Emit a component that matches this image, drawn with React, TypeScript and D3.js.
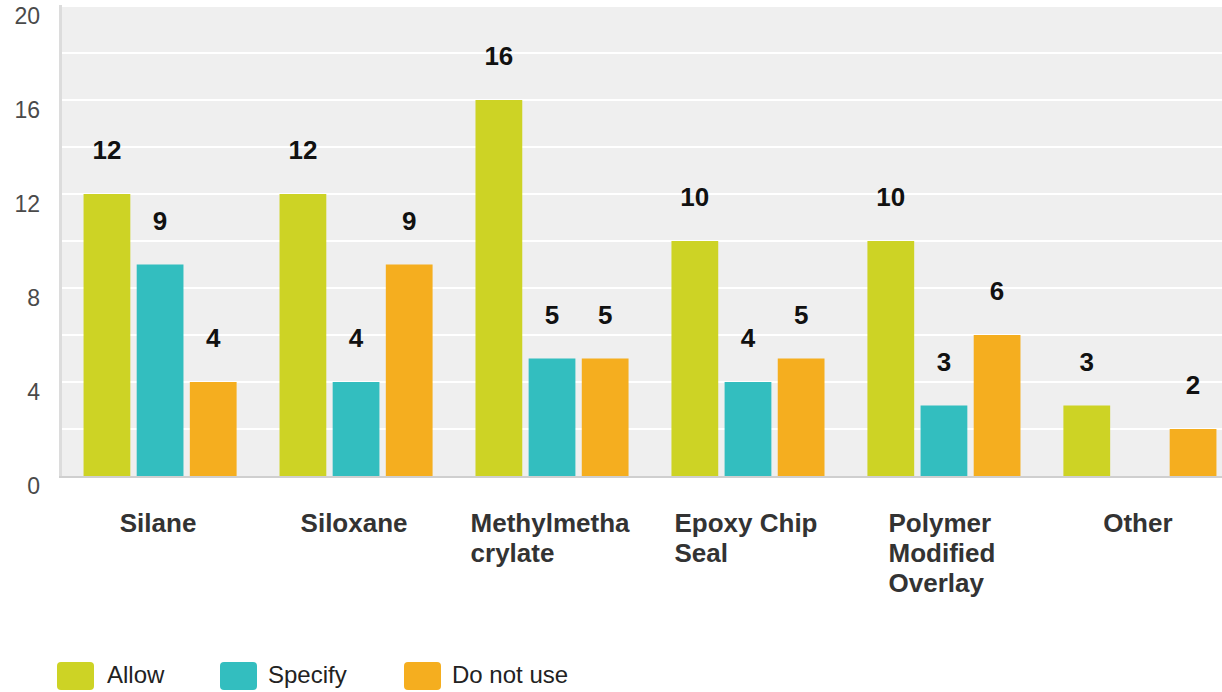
import React, { useEffect, useRef } from "react";
import * as d3 from "d3";

const categories = ["Silane", "Siloxane", "Methylmethacrylate", "Epoxy Chip Seal", "Polymer Modified Overlay", "Other"];
const seriesNames = ["Allow", "Specify", "Do not use"];
const allowValues = [12, 12, 16, 10, 10, 3];
const specifyValues = [9, 4, 5, 4, 3, 0];
const doNotUseValues = [4, 9, 5, 5, 6, 2];
const gridTicks = [0, 2, 4, 6, 8, 10, 12, 14, 16, 18, 20];
const labelTicks = [0, 4, 8, 12, 16, 20];
const colors = ["#CDD325", "#33BEBF", "#F5AE1F"];

const W = 1222;
const H = 692;
const FONT = "'Liberation Sans', Arial, sans-serif";

export default function App() {
  const ref = useRef<SVGSVGElement>(null);

  useEffect(() => {
    const svg = d3.select(ref.current);
    svg.selectAll("*").remove();

    const seriesValues = [allowValues, specifyValues, doNotUseValues];
    const left = 62, right = 1238, top = 6, bottom = 476;

    const y = d3.scaleLinear().domain([0, 20]).range([bottom, top]);
    const x0 = d3.scaleBand<string>().domain(categories).range([left, right]).paddingInner(0.219).paddingOuter(0.11);
    const x1 = d3.scaleBand<string>().domain(seriesNames).range([0, x0.bandwidth()]).paddingInner(0.12);

    // plot background
    svg.append("rect").attr("x", left).attr("y", top - 1).attr("width", W - left).attr("height", bottom - top + 1).attr("fill", "#EFEFEF");

    // grid lines
    svg.append("g").selectAll("line").data(gridTicks.filter(t => t > 0)).join("line")
      .attr("x1", left).attr("x2", W)
      .attr("y1", d => y(d)).attr("y2", d => y(d))
      .attr("stroke", "#FFFFFF").attr("stroke-width", 2);

    // axis lines
    svg.append("line").attr("x1", left - 1.5).attr("x2", left - 1.5).attr("y1", top - 1).attr("y2", bottom + 2)
      .attr("stroke", "#DCDCDC").attr("stroke-width", 3);
    svg.append("line").attr("x1", left - 3).attr("x2", W).attr("y1", bottom + 1).attr("y2", bottom + 1)
      .attr("stroke", "#CFCFCF").attr("stroke-width", 2);

    // y tick labels
    svg.append("g").selectAll("text").data(labelTicks).join("text")
      .attr("x", 40).attr("y", d => y(d) + 18)
      .attr("text-anchor", "end")
      .attr("font-family", FONT).attr("font-size", 23).attr("fill", "#4A4A4A")
      .text(d => String(d));

    // bars
    const groups = svg.append("g").selectAll("g").data(categories).join("g")
      .attr("transform", c => `translate(${x0(c)},0)`);
    seriesNames.forEach((s, si) => {
      groups.append("rect")
        .attr("x", x1(s)!)
        .attr("width", x1.bandwidth())
        .attr("y", (_c, i) => y(seriesValues[si][i]))
        .attr("height", (_c, i) => bottom - y(seriesValues[si][i]))
        .attr("fill", colors[si]);
      groups.filter((_c, i) => seriesValues[si][i] > 0).append("text")
        .attr("x", x1(s)! + x1.bandwidth() / 2)
        .attr("y", c => y(seriesValues[si][categories.indexOf(c)]) - 35)
        .attr("text-anchor", "middle")
        .attr("font-family", FONT).attr("font-weight", "bold").attr("font-size", 26).attr("fill", "#111")
        .text(c => String(seriesValues[si][categories.indexOf(c)]));
    });

    // x labels with wrapping
    const maxW = 165;
    const xl = svg.append("g");
    categories.forEach(cat => {
      const cx = x0(cat)! + x0.bandwidth() / 2;
      const t = xl.append("text").attr("font-family", FONT).attr("font-weight", "bold").attr("font-size", 26).attr("fill", "#333");
      const measure = t.append("tspan");
      const width = (s: string) => { measure.text(s); return (measure.node() as SVGTextContentElement).getComputedTextLength(); };
      const lines: string[] = [];
      let cur = "";
      for (const word of cat.split(" ")) {
        const cand = cur ? cur + " " + word : word;
        if (width(cand) <= maxW) { cur = cand; continue; }
        if (cur) { lines.push(cur); cur = ""; }
        let w = word;
        while (width(w) > maxW) {
          let k = w.length;
          while (k > 1 && width(w.slice(0, k)) > maxW) k--;
          lines.push(w.slice(0, k));
          w = w.slice(k);
        }
        cur = w;
      }
      if (cur) lines.push(cur);
      const widths = lines.map(l => width(l));
      measure.remove();
      const bw = Math.max(...widths);
      const lx = cx - bw / 2 - 2;
      lines.forEach((l, i) => {
        t.append("tspan").attr("x", lx).attr("y", 532 + i * 30).text(l);
      });
    });

    // legend
    const legendItems = [
      { name: seriesNames[0], sx: 57, tx: 107 },
      { name: seriesNames[1], sx: 220, tx: 268 },
      { name: seriesNames[2], sx: 404, tx: 452 },
    ];
    const lg = svg.append("g");
    legendItems.forEach((it, i) => {
      lg.append("rect").attr("x", it.sx).attr("y", 662).attr("width", 37).attr("height", 28).attr("rx", 4)
        .attr("fill", colors[i]);
      lg.append("text").attr("x", it.tx).attr("y", 683)
        .attr("font-family", FONT).attr("font-size", 24).attr("fill", "#222")
        .text(it.name);
    });
  }, []);

  return (
    <svg ref={ref} width={W} height={H} style={{ position: "absolute", left: 0, top: 0, background: "#fff" }} />
  );
}
